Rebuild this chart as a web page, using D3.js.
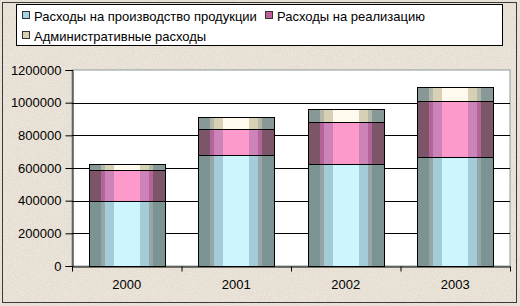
<!DOCTYPE html>
<html>
<head>
<meta charset="utf-8">
<script src="https://cdn.jsdelivr.net/npm/d3@7"></script>
<style>
    body { margin: 0; background: #e8e0d5; }
    svg { display: block; }
    text { font-family: "Liberation Sans", Arial, sans-serif; fill: #000; }
</style>
</head>
<body>
<svg id="chart" width="520" height="306"></svg>
<script>
// data
const years = ['2000', '2001', '2002', '2003'];
const production = [400000, 680000, 625000, 670000];
const sales = [190000, 160000, 255000, 340000];
const admin = [32000, 70000, 80000, 85000];
const seriesNames = ['Расходы на производство продукции', 'Расходы на реализацию', 'Административные расходы'];
const yTicks = [0, 200000, 400000, 600000, 800000, 1000000, 1200000];

const width = 520, height = 306;
const margin = {top: 70, right: 10, bottom: 40, left: 72};

const svg = d3.select('#chart');
const defs = svg.append('defs');

// paper-like speckle for the background
const noise = defs.append('filter').attr('id', 'paper')
    .attr('x', 0).attr('y', 0).attr('width', '100%').attr('height', '100%');
noise.append('feTurbulence')
    .attr('type', 'fractalNoise')
    .attr('baseFrequency', 0.9)
    .attr('numOctaves', 2)
    .attr('seed', 3)
    .attr('result', 'n');
noise.append('feColorMatrix')
    .attr('in', 'n')
    .attr('type', 'matrix')
    .attr('values', '0 0 0 0 0.98  0 0 0 0 0.96  0 0 0 0 0.93  0 0 0 -2.2 1.25');
noise.append('feComposite').attr('in2', 'SourceGraphic').attr('operator', 'in');

// background + outer frame
svg.append('rect')
    .attr('x', 0).attr('y', 0)
    .attr('width', width).attr('height', height)
    .attr('fill', '#e6ded2');
svg.append('rect')
    .attr('x', 0).attr('y', 0)
    .attr('width', width).attr('height', height)
    .attr('fill', '#fff')
    .attr('opacity', 0.5)
    .attr('filter', 'url(#paper)');
svg.append('rect')
    .attr('x', 2.5).attr('y', 2.5)
    .attr('width', 514).attr('height', 300)
    .attr('fill', 'none')
    .attr('stroke', '#3a3a3a');

// banded cylinder gradients
const bands = {
    prod: ['#7b9393', '#96a6a6', '#a4ccd8', '#ccf5fd', '#a4ccd8', '#96a6a6', '#7b9393'],
    sales: ['#7c5668', '#b4649a', '#cc84b8', '#fe99cc', '#cc84b8', '#b4649a', '#7c5668'],
    admin: ['#889896', '#b4b8a8', '#d8d0b4', '#fefaee', '#d8d0b4', '#b4b8a8', '#889896']
};
const cuts = [0, 0.15, 0.2, 0.32, 0.66, 0.78, 0.83, 1];
Object.keys(bands).forEach(k => {
    let g = defs.append('linearGradient')
        .attr('id', 'grad-' + k)
        .attr('x1', '0').attr('x2', '1').attr('y1', '0').attr('y2', '0');
    bands[k].forEach((c, i) => {
        g.append('stop').attr('offset', cuts[i]).attr('stop-color', c);
        g.append('stop').attr('offset', cuts[i + 1]).attr('stop-color', c);
    });
});

const x = d3.scaleBand()
    .domain(years)
    .range([margin.left, width - margin.right])
    .paddingInner(0.31)
    .paddingOuter(0.155);

const y = d3.scaleLinear()
    .domain([0, 1200000])
    .range([height - margin.bottom, margin.top]);

// plot area
svg.append('rect')
    .attr('x', margin.left).attr('y', margin.top)
    .attr('width', width - margin.right - margin.left)
    .attr('height', y(0) - margin.top)
    .attr('fill', '#fff')
    .attr('stroke', '#8a9a9a');

// gridlines
svg.append('g')
    .selectAll('line')
    .data(yTicks.slice(1, -1))
    .join('line')
    .attr('x1', margin.left).attr('x2', width - margin.right)
    .attr('y1', d => Math.round(y(d)) + 0.5)
    .attr('y2', d => Math.round(y(d)) + 0.5)
    .attr('stroke', '#000');

// stacked cylinders
const stackData = years.map((yr, i) => ({year: yr, prod: production[i], sales: sales[i], admin: admin[i]}));
const stack = d3.stack().keys(['prod', 'sales', 'admin'])(stackData);

svg.append('g')
    .selectAll('g')
    .data(stack)
    .join('g')
    .attr('fill', d => 'url(#grad-' + d.key + ')')
    .selectAll('rect')
    .data(d => d)
    .join('rect')
    .attr('x', d => Math.round(x(d.data.year)) + 0.5)
    .attr('width', Math.round(x.bandwidth()))
    .attr('y', d => Math.round(y(d[1])) + 0.5)
    .attr('height', d => Math.round(y(d[0])) - Math.round(y(d[1])))
    .attr('stroke', '#000')
    .attr('stroke-width', 1);

// y axis
const yAxis = d3.axisLeft(y)
    .tickValues(yTicks)
    .tickFormat(d3.format('d'))
    .tickSize(7)
    .tickPadding(4);
const gy = svg.append('g')
    .attr('transform', `translate(${margin.left + 0.5},0)`)
    .call(yAxis);
gy.select('.domain').attr('stroke', '#000');
gy.selectAll('.tick line').attr('stroke', '#000');
gy.selectAll('.tick text').style('font-size', '13px').attr('fill', '#000')
    .style('font-family', '"Liberation Sans", Arial, sans-serif');

// x axis
const xAxis = d3.axisBottom(d3.scaleLinear().domain([0, 4]).range([margin.left, width - margin.right]))
    .tickValues([0, 1, 2, 3, 4])
    .tickFormat('')
    .tickSize(5)
    .tickSizeOuter(0);
const gx = svg.append('g')
    .attr('transform', `translate(0,${Math.round(y(0)) + 0.5})`)
    .call(xAxis);
gx.selectAll('.tick line').attr('stroke', '#000');
gx.select('.domain').attr('stroke', '#000');

svg.append('g')
    .selectAll('text')
    .data(years)
    .join('text')
    .attr('x', d => x(d) + x.bandwidth() / 2)
    .attr('y', 289)
    .attr('text-anchor', 'middle')
    .style('font-size', '13px')
    .text(d => d);

// legend
svg.append('rect')
    .attr('x', 16.5).attr('y', 4.5)
    .attr('width', 486).attr('height', 41)
    .attr('fill', '#fff')
    .attr('stroke', '#000');

const legendColors = ['#a4d4e4', '#c0609a', '#d8d0b4'];
const legendPos = [[22, 16], [265, 16], [22, 36]];
const legend = svg.append('g')
    .selectAll('g')
    .data(seriesNames)
    .join('g')
    .attr('transform', (d, i) => `translate(${legendPos[i][0]},${legendPos[i][1]})`);

legend.append('rect')
    .attr('x', 0.5).attr('y', -4.5)
    .attr('width', 7).attr('height', 7)
    .attr('fill', (d, i) => legendColors[i])
    .attr('stroke', '#333');

legend.append('text')
    .attr('x', 12)
    .attr('y', 4.5)
    .style('font-size', '13px')
    .text(d => d);
</script>
</body>
</html>
